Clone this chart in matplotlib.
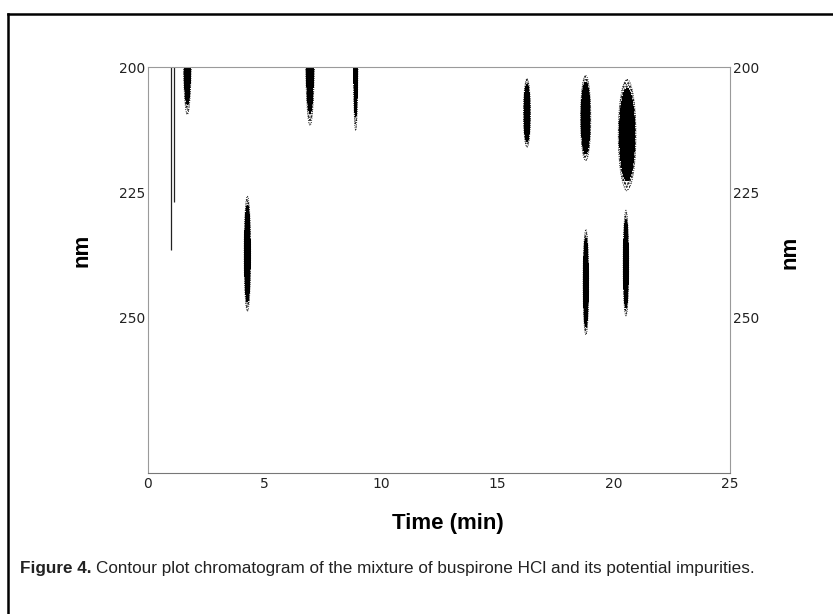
import numpy as np
import matplotlib
matplotlib.use("Agg")
import matplotlib.pyplot as plt
from matplotlib.lines import Line2D

# peaks: retention time (min), centre wavelength (nm),
# half width in time and half extent in nm of the outermost contour
peak_time = [1.69, 4.27, 6.96, 8.92, 16.28, 18.80, 20.58, 18.81, 20.53]
peak_nm = [197.0, 237.3, 196.5, 196.0, 209.2, 210.2, 213.5, 243.0, 239.3]
peak_wt = [0.17, 0.14, 0.19, 0.10, 0.15, 0.22, 0.38, 0.12, 0.12]
peak_wn = [12.5, 11.5, 15.2, 16.7, 6.8, 8.5, 11.0, 10.5, 10.4]

# the two very thin traces near the solvent front
line_time = [0.99, 1.12]
line_end = [236.5, 226.9]

x_ticks = [0, 5, 10, 15, 20, 25]
y_ticks = [200, 225, 250]

W, H = 833, 614
fig = plt.figure(figsize=(W / 100, H / 100), dpi=100)
ax = fig.add_axes([148 / W, 1 - 472.5 / H, 582 / W, 405.5 / H])

t = np.linspace(0, 25, 2501)
nm = np.linspace(200, 281, 811)
T, N = np.meshgrid(t, nm)
Z = np.zeros_like(T)
r = np.sqrt(-np.log(0.1))
for t0, n0, wt, wn in zip(peak_time, peak_nm, peak_wt, peak_wn):
    Z += np.exp(-((T - t0) / (wt / r)) ** 2 - ((N - n0) / (wn / r)) ** 2)

plt.rcParams['hatch.color'] = 'black'
plt.rcParams['hatch.linewidth'] = 1.0
ax.contourf(T, N, Z, levels=[0.1, 0.2, 100], colors=['none', 'black'],
            hatches=['.....', None])
ax.contour(T, N, Z, levels=[0.1, 0.15], colors='black',
           linewidths=0.6, linestyles=':')
ax.vlines(line_time, 200, line_end, colors='#222222', linewidth=0.9)

ax.set_xlim(0, 25)
ax.set_ylim(281, 200)
ax.set_xticks(x_ticks)
ax.set_yticks(y_ticks)
ax.tick_params(length=0, labelsize=10, pad=3, labelcolor='#222222')
ax.tick_params(axis='y', right=True, labelright=True, pad=2)
for s in ax.spines.values():
    s.set_color('#9a9a9a')
    s.set_linewidth(0.8)
    s.set_linestyle((0, (8, 1)))
ax.spines['bottom'].set_color('#777777')

bold = dict(fontsize=16, fontweight='bold', family='Liberation Sans')
fig.text(82 / W, 1 - 250 / H, 'nm', rotation=90, ha='center', va='center', **bold)
fig.text(790 / W, 1 - 252 / H, 'nm', rotation=90, ha='center', va='center', **bold)
fig.text(448 / W, 1 - 524 / H, 'Time (min)', ha='center', va='center', **bold)

# figure frame: only top and left edges are visible in the crop
fig.add_artist(Line2D([8 / W, 1], [1 - 14 / H] * 2, color='black', lw=1.8))
fig.add_artist(Line2D([8 / W] * 2, [0, 1 - 14 / H], color='black', lw=1.8))

cap_font = 'Liberation Sans'
renderer = fig.canvas.get_renderer()
size = 12
t1 = fig.text(20 / W, 1 - 568 / H, 'Figure 4.', fontsize=size, fontweight='bold',
              family=cap_font, va='center', color='#222222')
bb = t1.get_window_extent(renderer)
t2 = fig.text((bb.x1 + 4) / W, 1 - 568 / H,
              'Contour plot chromatogram of the mixture of buspirone HCl and its potential impurities.',
              fontsize=size, family=cap_font, va='center', color='#222222')
total = t2.get_window_extent(renderer).x1 - bb.x0
scale = 733 / total
t1.set_fontsize(size * scale)
t2.set_fontsize(size * scale)
bb = t1.get_window_extent(renderer)
t2.set_x((bb.x1 + 4) / W)

fig.savefig('out.png', dpi=100)
